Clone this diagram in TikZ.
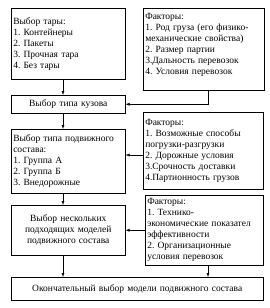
\documentclass[tikz,border=0pt]{standalone}
\usepackage{fontspec}
\setmainfont{Liberation Serif}
\usetikzlibrary{arrows.meta,shadows}
\tikzset{
  blok/.style={draw, fill=white, line width=0.5pt, anchor=north west,
    inner xsep=2pt, inner ysep=0pt, font=\fontsize{9.5}{11}\selectfont\frenchspacing,
    drop shadow={shadow xshift=1pt, shadow yshift=-1pt, fill=black, opacity=0.8}},
  strelka/.style={-{Latex[length=4pt,width=3pt]}, line width=0.5pt}
}
\begin{document}
\begin{tikzpicture}[x=1pt,y=-1pt]
  \useasboundingbox (0,0) rectangle (270,308);
  % left column
  \node[blok, minimum width=114pt, minimum height=71pt, text width=110pt, align=left] (tara) at (11,8)
    {Выбор тары:\\1. Контейнеры\\2. Пакеты\\3. Прочная тара\\4. Без тары};
  \node[blok, minimum width=114pt, minimum height=18pt, text width=110pt, align=center] (kuzov) at (11,95)
    {Выбор типа кузова};
  \node[blok, minimum width=114pt, minimum height=64pt, text width=110pt, align=left] (podv) at (11,129)
    {Выбор типа подвижного\\состава:\\1. Группа А\\2. Группа Б\\3. Внедорожные};
  \node[blok, minimum width=114pt, minimum height=50pt, text width=110pt, align=center] (vybor) at (11,205)
    {Выбор нескольких\\подходящих моделей\\подвижного состава};
  \node[blok, minimum width=252pt, minimum height=23pt, text width=248pt, align=center] (final) at (11,277)
    {Окончательный выбор модели подвижного состава};
  % factors
  \node[blok, minimum width=121pt, minimum height=82pt, text width=117pt, align=left] (fak1) at (143,8)
    {Факторы:\\1. Род груза (его физико-\\механические свойства)\\2. Размер партии\\3.Дальность перевозок\\4. Условия перевозок\\\mbox{}};
  \node[blok, minimum width=120pt, minimum height=77pt, text width=116pt, align=left] (fak2) at (143,112)
    {Факторы:\\1. Возможные способы\\погрузки-разгрузки\\2. Дорожные условия\\3.Срочность доставки\\4.Партионность грузов};
  \node[blok, minimum width=118pt, minimum height=70pt, text width=114pt, align=left] (fak3) at (145,195)
    {Факторы:\\1. Технико-\\экономические показател\\эффективности\\2. Организационные\\условия перевозок};
  % arrows
  \coordinate (ax) at (63,0);
  \coordinate (bx) at (208,0);
  \coordinate (cy) at (0,155);
  \draw[strelka] (tara.south -| ax) -- (kuzov.north -| ax);
  \draw[strelka] (kuzov.south -| ax) -- (podv.north -| ax);
  \draw[strelka] (podv.south -| ax) -- (vybor.north -| ax);
  \draw[strelka] (vybor.south -| ax) -- (final.north -| ax);
  \draw[strelka] (fak1.south -| bx) |- (kuzov.east);
  \draw[strelka] (fak2.west |- cy) -- (podv.east |- cy);
  \draw[strelka] (fak3.west) -- (fak3.west -| vybor.east);
  \draw[strelka] (fak3.south -| bx) -- (final.north -| bx);
\end{tikzpicture}
\end{document}
